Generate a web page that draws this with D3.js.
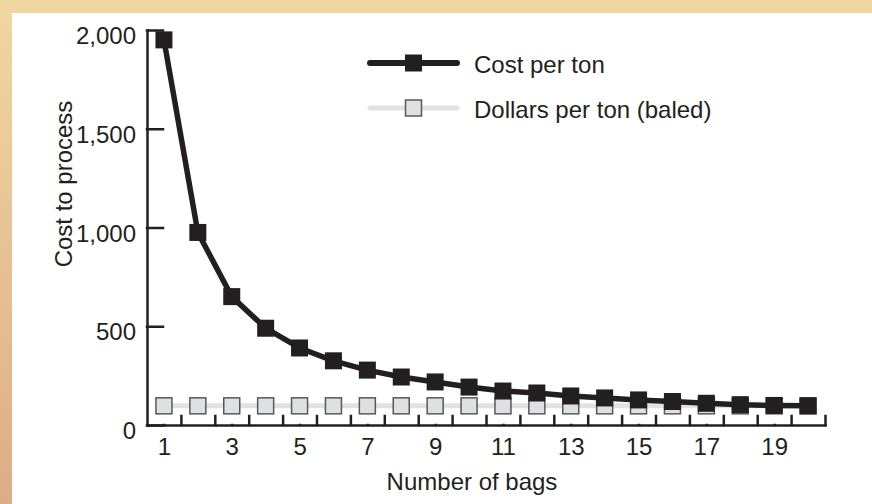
<!DOCTYPE html>
<html>
<head>
<meta charset="utf-8">
<script src="https://cdn.jsdelivr.net/npm/d3@7"></script>
<style>
  html, body { margin: 0; padding: 0; background: #fff; }
  svg { display: block; }
  text { font-family: "Liberation Sans", Arial, sans-serif; fill: #231f20; }
</style>
</head>
<body>
<div id="chart"></div>
<script>
// data
const bags = [1, 2, 3, 4, 5, 6, 7, 8, 9, 10, 11, 12, 13, 14, 15, 16, 17, 18, 19, 20];
const costPerTon = [1950, 975, 650, 490, 390, 325, 278, 243, 218, 192, 172, 162, 147, 137, 127, 119, 110, 103, 99, 97];
const dollarsPerTon = [97, 97, 97, 97, 97, 97, 97, 97, 97, 97, 97, 97, 97, 97, 97, 97, 97, 97, 97, 97];
const yTicks = [0, 500, 1000, 1500, 2000];
const xLabelTicks = [1, 3, 5, 7, 9, 11, 13, 15, 17, 19];
const seriesNames = ['Cost per ton', 'Dollars per ton (baled)'];

const width = 872;
const height = 504;
const ink = '#231f20';
const fontSize = '24px';

const svg = d3.select('#chart').append('svg')
  .attr('width', width)
  .attr('height', height);

// tan frame behind a white panel
const grad = svg.append('defs').append('linearGradient')
  .attr('id', 'frame')
  .attr('x1', 0).attr('y1', 0).attr('x2', 0).attr('y2', 1);
grad.append('stop').attr('offset', '0%').attr('stop-color', '#f1d7a0');
grad.append('stop').attr('offset', '100%').attr('stop-color', '#ddad87');

svg.append('rect')
  .attr('width', width).attr('height', height)
  .attr('fill', 'url(#frame)');
svg.append('rect')
  .attr('x', 12).attr('y', 13)
  .attr('width', width - 12).attr('height', height - 13)
  .attr('fill', '#fff');

const x = d3.scaleLinear()
  .domain([0.5, 20.5])
  .range([147, 825]);

const y = d3.scaleLinear()
  .domain([0, 2000])
  .range([425, 30]);

// y axis
const yAxis = svg.append('g')
  .attr('transform', `translate(${x(0.5)},0)`)
  .call(d3.axisLeft(y)
    .tickValues(yTicks)
    .tickSize(-16)
    .tickSizeOuter(0)
    .tickPadding(11)
    .tickFormat(d3.format(',')));
yAxis.selectAll('text')
  .attr('dy', 13.5)
  .style('font-size', fontSize);

// x axis: small ticks between the bags, odd labels under the points
svg.append('g')
  .attr('transform', `translate(0,${y(0)})`)
  .call(d3.axisBottom(x)
    .tickValues(bags.map(b => b + 0.5))
    .tickSize(-9)
    .tickSizeOuter(0)
    .tickFormat(''));

const xLabels = svg.append('g')
  .attr('transform', `translate(0,${y(0)})`)
  .call(d3.axisBottom(x)
    .tickValues(xLabelTicks)
    .tickSize(0)
    .tickPadding(12.5));
xLabels.select('.domain').remove();
xLabels.selectAll('text').style('font-size', fontSize);

svg.selectAll('.domain, .tick line')
  .attr('stroke', ink)
  .attr('stroke-width', 2.5)
  .attr('stroke-linecap', 'square');

// axis titles
svg.append('text')
  .attr('transform', 'translate(72,184) rotate(-90)')
  .attr('text-anchor', 'middle')
  .style('font-size', fontSize)
  .text('Cost to process');

svg.append('text')
  .attr('x', 472)
  .attr('y', 490)
  .attr('text-anchor', 'middle')
  .style('font-size', fontSize)
  .text('Number of bags');

// dollars per ton (grey, drawn first so it sits under the black line)
const dollarData = bags.map((b, i) => ({ b, v: dollarsPerTon[i] }));
const costData = bags.map((b, i) => ({ b, v: costPerTon[i] }));

const line = d3.line()
  .x(d => x(d.b))
  .y(d => y(d.v));

svg.append('path')
  .datum(dollarData)
  .attr('fill', 'none')
  .attr('stroke', '#e2e2e4')
  .attr('stroke-width', 5)
  .attr('d', line);

svg.append('g').selectAll('rect')
  .data(dollarData)
  .enter()
  .append('rect')
  .attr('x', d => x(d.b) - 8)
  .attr('y', d => y(d.v) - 8)
  .attr('width', 16)
  .attr('height', 16)
  .attr('fill', '#dfe0e2')
  .attr('stroke', '#58585a')
  .attr('stroke-width', 1.5);

// cost per ton
svg.append('path')
  .datum(costData)
  .attr('fill', 'none')
  .attr('stroke', ink)
  .attr('stroke-width', 5.5)
  .attr('stroke-linejoin', 'round')
  .attr('d', line);

svg.append('g').selectAll('rect')
  .data(costData)
  .enter()
  .append('rect')
  .attr('x', d => x(d.b) - 8.5)
  .attr('y', d => y(d.v) - 8.5)
  .attr('width', 17)
  .attr('height', 17)
  .attr('fill', ink);

// legend
const legend = svg.append('g').attr('transform', 'translate(370,0)');
const legendRows = [
  { name: seriesNames[0], cy: 63, stroke: ink, sw: 6, fill: ink, edge: 'none', size: 17 },
  { name: seriesNames[1], cy: 108, stroke: '#e2e2e4', sw: 5, fill: '#dfe0e2', edge: '#58585a', size: 16 },
];
legendRows.forEach(r => {
  legend.append('line')
    .attr('x1', 0).attr('x2', 87)
    .attr('y1', r.cy).attr('y2', r.cy)
    .attr('stroke', r.stroke)
    .attr('stroke-width', r.sw)
    .attr('stroke-linecap', 'round');
  legend.append('rect')
    .attr('x', 43.5 - r.size / 2)
    .attr('y', r.cy - r.size / 2)
    .attr('width', r.size).attr('height', r.size)
    .attr('fill', r.fill)
    .attr('stroke', r.edge)
    .attr('stroke-width', 1.5);
  legend.append('text')
    .attr('x', 104)
    .attr('y', r.cy + 10)
    .style('font-size', fontSize)
    .text(r.name);
});
</script>
</body>
</html>
